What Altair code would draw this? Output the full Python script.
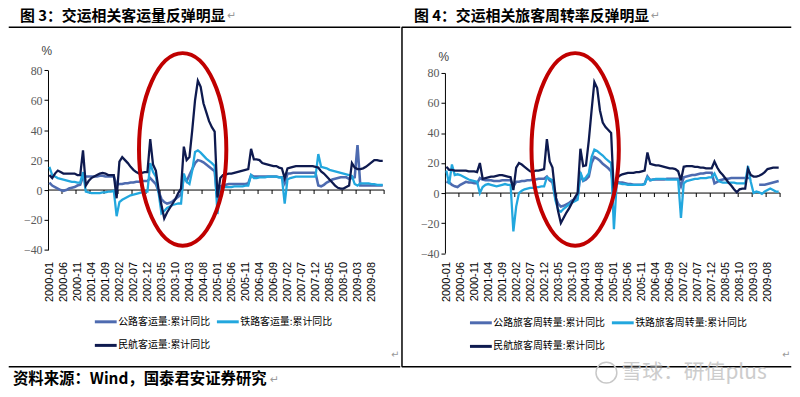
import json
import altair as alt
import pandas as pd

# ---------------- data ----------------
months = [f"{y}-{m:02d}" for y in range(2000, 2010) for m in range(1, 13)]
label_idx = list(range(0, 120, 5))
tick_idx = [4.5 + 5 * k for k in range(24)]
y_ticks = [-40, -20, 0, 20, 40, 60, 80]

left_names = ["公路客运量:累计同比", "铁路客运量:累计同比", "民航客运量:累计同比"]
right_names = ["公路旅客周转量:累计同比", "铁路旅客周转量:累计同比", "民航旅客周转量:累计同比"]
colors = ["#4E6BB0", "#22A7DE", "#0E1A4F"]

left_road = [
    5, 3, 2, 1, 0, -0.5, 0, 1, 1.5, 2, 3, 3.5,
    9, 9, 9, 9, 9, 9, 9.5, 9.5, 9, 9, 9, 9,
    3.5, 4, 4, 4.5, 4.5, 5, 5, 5.5, 5.5, 6, 6, 6,
    8, 6, 4, -1, -6, -8, -9, -8.5, -7.5, -6, -4.5, -3,
    9, 6, 10, 14, 18, 20, 19.5, 18.5, 17, 15.5, 14, 12.5,
    -7, 2.5, 3, 3.5, 4, 4, 4, 4, 4, 4, 4, 4.5,
    10, 9, 9, 9, 9, 9, 9, 9, 9, 9, 8.5, 8.5,
    4.5, 11, 11, 11.5, 11.5, 11.5, 11.5, 11.5, 11.5, 11.5, 11.5, 11.5,
    3, 2.5, 3.5, 5, 6, 7, 7.5, 8, 8.5, 8.5, 8.5, 7.5,
    8, 8.5, 30, 3, 3, 3, 3, 3, 3, 3, 3, 3,
]
left_rail = [
    15.5, 10, 9, 8, 7.5, 7, 6.5, 6, 5.5, 5.5, 5, 5,
    12, -1, -1.5, -2, -2, -2, -2, -1.5, -1.5, -1, -1, -0.5,
    -17.5, -8, -6.5, -5.5, -4.5, -3.5, -3, -2.5, -2, -1.5, -1, -1,
    18, 12, 9, -2, -15.5, -14, -12, -11, -10, -9.5, -9, -9,
    11, 5.5, 4, 13, 25.5, 26.5, 25, 23, 21, 19.5, 18, 16,
    -16, 0, 2, 2, 2, 2, 2.5, 2.5, 2.5, 2.5, 3, 3,
    10, 8, 8, 8.5, 8.5, 8.5, 9, 9, 9, 9, 8.5, 8.5,
    -9, 7, 8, 8.5, 9, 9, 9, 9, 9, 9, 9, 9,
    24, 15.5, 15, 14.5, 13.5, 13, 12.5, 12, 11.5, 11, 10.5, 10,
    9.5, 4, 3, 4.5, 4.5, 4.5, 4.5, 4, 4, 3.5, 3.5, 3.5,
]
left_air = [
    10, 8, 11, 13, 12, 11, 11, 11, 11, 11, 10, 10,
    26.5, 3, 6, 8, 9, 10, 11, 11.5, 11, 10, 10, 10,
    -5.5, 19, 22, 20, 18, 15.5, 13.5, 12, 11, 11.5, 12, 12,
    34, 17, 13, 0, -10, -19, -15, -12, -9, -6, -2, 1,
    29, 20, 22, 40, 60, 73, 69, 58, 52, 46, 42, 39,
    -5, 8, 10, 10.5, 11, 11, 11.5, 12, 12.5, 13, 13.5, 14,
    27.5, 20.5, 20.5, 20, 18, 17.5, 17, 16.5, 16, 16, 15, 14.5,
    8, 14.5, 15, 15.5, 16, 16, 16, 16, 16, 16, 16, 15.5,
    15, 12.5, 11, 9, 7, 5, 3, 1.5, 1, 1, 2, 3,
    18, 15, 14, 14, 14.5, 15.5, 17, 18.5, 20, 20, 19.5, 19.5,
]

right_road = [
    7.5, 7, 5.5, 4.5, 4, 5.5, 6.5, 7.5, 7, 7, 6.5, 6.5,
    10, 9, 8.5, 8.5, 8.5, 8, 8, 8, 8.5, 8.5, 8.5, 8.5,
    4.5, 7.5, 7.5, 8, 8, 8.5, 8.5, 9, 9, 9.5, 9.5, 9.5,
    11, 8.5, 7, -2.5, -7, -9, -8.5, -7.5, -6.5, -5, -4, -3,
    12.5, 8, 9, 11, 20, 24, 23, 21.5, 19.5, 18, 16.5, 14.5,
    2, 7.5, 7, 7, 6.5, 6, 6, 5.5, 5.5, 5.5, 5.5, 6,
    11, 8.5, 9, 9, 9, 9, 9, 9.5, 9.5, 9.5, 9.5, 9.5,
    4.5, 10.5, 11, 11.5, 12, 12, 12.5, 13, 13, 13.5, 13.5, 13.5,
    6.5, 7.5, 8.5, 9, 9.5, 9.5, 10, 10, 10, 10, 10, 10,
    10, 10, None, None, 5.5, 5.5, 5.5, 6, 6.5, 7, 7.5, 8,
]
right_rail = [
    15, 6, 19, 12, 12.5, 12, 11, 10, 9, 8.5, 8, 7.5,
    0, 4, 5.5, 6, 5.5, 5, 4.5, 5, 5.5, 6, 5.5, 5.5,
    -25.5, -9, 0, 1.5, 2.5, 3, 3.5, 3.5, 4, 4, 4.5, 4.5,
    10.5, 9.5, 8.5, -4.5, -11, -12.5, -10.5, -9, -7.5, -6.5, -5.5, -4.5,
    14, 8.5, 10.5, 13, 24, 29, 28, 26.5, 25, 23, 21.5, 20,
    -24, 6.5, 6.5, 6, 6, 5.5, 5.5, 5.5, 5.5, 5.5, 5.5, 6,
    10.5, 8.5, 9, 9.5, 9.5, 9.5, 9.5, 9, 9, 9, 9, 9,
    -16.5, 6.5, 8, 8.5, 9, 9.5, 9.5, 10, 10, 10, 10.5, 10.5,
    13, 9, 7.5, 7, 7, 7, 7, 7, 6.5, 6.5, 6.5, 6.5,
    18, 7.5, 0, 1, 0.5, -0.5, 1, 2, 3, 2, 1, 1,
]
right_air = [
    17.5, 15.5, 15.5, 15, 15, 15, 15, 15, 14.5, 14.5, 14.5, 14,
    20, 9.5, 10, 10.5, 11, 11, 11.5, 12, 12, 11.5, 11, 10.5,
    2, 17, 20, 19, 17.5, 16, 14.5, 14, 15, 15, 15.5, 16,
    36, 21, 17, 0, -12, -20, -16.5, -13, -10, -6.5, -3, 0,
    29.5, 18, 18.5, 35, 55, 74, 70, 55, 47, 44, 42, 40,
    -1, 10, 11.5, 12.5, 13, 13.5, 13.5, 13.5, 14, 14, 14.5, 15,
    27, 19.5, 19, 18.5, 18.5, 18, 17.5, 17, 16.5, 16.5, 16, 14.5,
    8.5, 17.5, 18, 18, 18, 17.5, 17.5, 17, 17, 16.5, 16.5, 16.5,
    21, 17, 14, 12, 9.5, 7, 5, 2.5, 0.5, 2.5, 3, 3,
    16, 12, 11, 11, 11.5, 12.5, 14, 16, 16.5, 17, 17, 17,
]

H = 384
ELLIPSE = "M0,-1 A0.4536,1 0 1,1 0,1 A0.4536,1 0 1,1 0,-1 Z"
CJK = "Noto Sans CJK SC"
one = pd.DataFrame({"k": [0]})


def text_layer(txt, x, y, size, color="#000", weight="normal", align="left",
               baseline="top", font=CJK, opacity=1.0):
    return alt.Chart(one).mark_text(
        text=txt, font=font, fontSize=size, fontWeight=weight, color=color,
        align=align, baseline=baseline, opacity=opacity,
    ).encode(x=alt.value(x), y=alt.value(y))


def rule_layer(x, x2, y, y2, width=1.5, color="#000"):
    return alt.Chart(one).mark_rule(color=color, strokeWidth=width).encode(
        x=alt.value(x), x2=alt.value(x2), y=alt.value(y), y2=alt.value(y2))


def panel(p):
    rows = []
    for name, vals in zip(p["names"], p["series"]):
        for i, v in enumerate(vals):
            rows.append({"idx": i, "series": name, "value": v})
    df = pd.DataFrame(rows)

    xs = alt.Scale(domain=[-0.5, 119.5], range=p["xr"], nice=False, zero=False)
    ys = alt.Scale(domain=[-40, 80], range=p["yr"], nice=False, zero=False)
    xaxis = alt.Axis(
        values=label_idx, labelExpr=json.dumps(months) + "[datum.value]",
        labelAngle=-90, domain=False, ticks=False, grid=False, title=None,
        offset=-133, labelPadding=3, labelFont="Liberation Sans",
        labelFontSize=11, labelColor="#000", labelOverlap=False, labelFlush=False,
    )
    yaxis = alt.Axis(
        values=y_ticks, offset=-p["xr"][0], grid=False, title=None, tickSize=4,
        domainColor="#000", tickColor="#000", labelColor="#595959",
        labelFont="Liberation Sans Narrow", labelFontSize=12, labelPadding=2,
    )
    X = alt.X("idx:Q", scale=xs, axis=xaxis)
    Y = alt.Y("value:Q", scale=ys, axis=yaxis)
    zero_px = p["yr"][0] + (40.0 / 120.0) * (p["yr"][1] - p["yr"][0])

    legend = alt.Legend(
        orient="none", legendX=p["lx"], legendY=p["ly"], direction="horizontal",
        columns=2, title=None, symbolType="stroke", symbolStrokeWidth=3,
        symbolSize=484, labelFont=CJK, labelFontSize=10, labelColor="#000",
        labelOffset=0, columnPadding=0, rowPadding=5, labelLimit=0,
    )
    color = alt.Color("series:N", scale=alt.Scale(domain=p["names"], range=colors),
                      legend=legend)

    layers = []
    zdf = pd.DataFrame({"idx": [-0.5], "idx2": [119.5], "value": [0]})
    layers.append(alt.Chart(zdf).mark_rule(color="#000", strokeWidth=1).encode(
        x=X, x2="idx2:Q", y=Y))
    tdf = pd.DataFrame({"idx": tick_idx, "value": [0] * len(tick_idx)})
    layers.append(alt.Chart(tdf).mark_rule(color="#000", strokeWidth=1).encode(
        x=X, y=Y, y2=alt.value(zero_px + 4)))
    widths = [2.6, 2.3, 2.3]
    for name, sw in zip(p["names"], widths):
        layers.append(
            alt.Chart(df).transform_filter(alt.datum.series == name)
            .mark_line(strokeWidth=sw)
            .encode(x=X, y=Y, color=color)
        )
    layers.append(alt.Chart(one).mark_point(
        shape=ELLIPSE, size=37636, filled=False, color="#C00000",
        strokeWidth=4, opacity=1).encode(x=alt.value(p["ex"]), y=alt.value(p["ey"])))
    layers.append(text_layer(p["title"], p["tx"], 0, 15, weight="bold"))
    layers.append(text_layer("↵", p["rx"], 1, 11, color="#9a9a9a", font="DejaVu Sans"))
    layers.append(text_layer("%", p["px"], p["py"], 12, color="#404040",
                             font="Liberation Sans", baseline="middle", align="center"))
    layers.append(text_layer("↵", p["w"] - 6, 348, 10, color="#9a9a9a",
                             font="DejaVu Sans", align="center", baseline="middle"))
    layers.append(rule_layer(0.75, p["w"] - 0.75, 18, 18))
    layers.append(rule_layer(0.75, p["w"] - 0.75, 360, 360))
    layers.extend(p.get("extra", []))
    return alt.layer(*layers).properties(width=p["w"], height=H)


left = panel({
    "names": left_names, "series": [left_road, left_rail, left_air],
    "w": 396, "xr": [40.3, 379], "yr": [242.3, 61.3],
    "lx": 86, "ly": 302, "ex": 176, "ey": 141,
    "title": "图 3：交运相关客运量反弹明显", "tx": 12, "rx": 221,
    "px": 39, "py": 42,
    "extra": [
        text_layer("资料来源：Wind，国泰君安证券研究", 5, 372, 15.5,
                   weight="bold", baseline="middle"),
        text_layer("↵", 264, 373, 11, color="#9a9a9a", font="DejaVu Sans",
                   baseline="middle"),
    ],
})

right = panel({
    "names": right_names, "series": [right_road, right_rail, right_air],
    "w": 394, "xr": [44.3, 382], "yr": [245.5, 64],
    "lx": 68, "ly": 303, "ex": 175.5, "ey": 141,
    "title": "图 4：交运相关旅客周转率反弹明显", "tx": 13, "rx": 252,
    "px": 43, "py": 48,
    "extra": [
        rule_layer(1, 1, 18, 360),
        alt.Chart(one).mark_point(shape="circle", size=441, filled=False,
                                  color="#c8c8c8", strokeWidth=1.5, opacity=1)
        .encode(x=alt.value(207), y=alt.value(366)),
        text_layer("雪球：研值plus", 222, 366, 21, color="#c4c4c4",
                   baseline="middle", opacity=0.85),
    ],
})

chart = (
    alt.hconcat(left, right, spacing=0)
    .resolve_scale(x="independent", y="independent", color="independent")
    .properties(padding=0, background="white")
    .configure_view(strokeWidth=0)
)

chart.save("out.html", embed_options={"renderer": "svg", "actions": False})
